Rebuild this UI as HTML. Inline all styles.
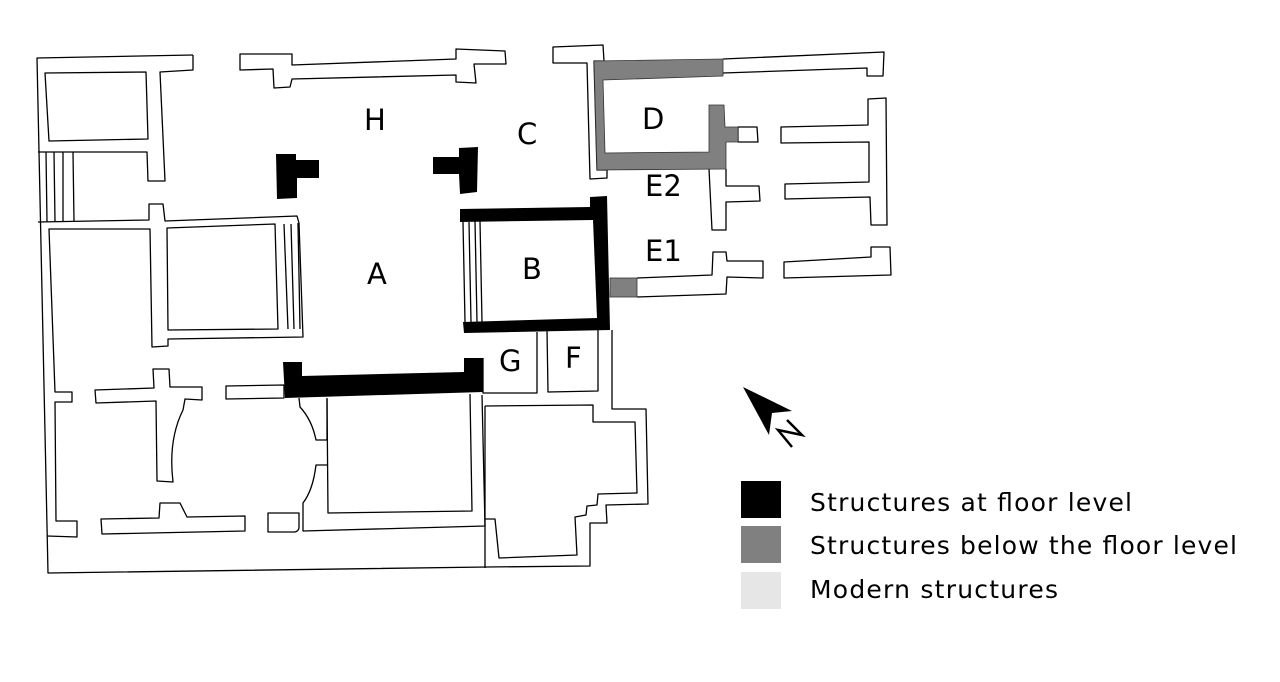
<!DOCTYPE html>
<html><head><meta charset="utf-8"><style>
html,body{margin:0;padding:0;background:#fff;}
svg{display:block;}
text{font-family:"DejaVu Sans","Liberation Sans",sans-serif;fill:#000;}
</style></head><body>
<svg width="1280" height="682" viewBox="0 0 1280 682" xmlns="http://www.w3.org/2000/svg">
<g fill="none" stroke="#000" stroke-width="1.3" stroke-linejoin="round">
<polyline points="193,55 37,58 48,573 487,567 590,566 590,523 607,523 606,505 648,504 646,409 612,409 612,330"/>
<polyline points="193,55 193,70 160,72 165,181 148,181 147,152 38,152"/>
<polygon points="45,73 146,72 148,139 49,141"/>
<line x1="46" y1="152" x2="47" y2="222"/><line x1="54" y1="152" x2="55" y2="222"/><line x1="63" y1="152" x2="63" y2="222"/><line x1="73" y1="152" x2="74" y2="222"/>
<polyline points="38,222 149,220 149,204 163,204 165,221 297,216 299,223 303,337 168,339 168,346 152,347 150,229 49,229 55,392 72,392 72,402 55,402 56,521 77,521 77,537 47,536"/>
<polygon points="167,228 275,224 278,329 168,330"/>
<line x1="284" y1="224" x2="288" y2="329"/><line x1="291" y1="224" x2="294" y2="329"/><line x1="298" y1="223" x2="300" y2="329"/>
<polygon points="240,54 292,54 292,65 456,59 456,49 505,51 506,64 474,64 476,83 456,82 456,75 292,79 290,87 274,88 273,69 240,70"/>
<polygon points="553,47 603,45 604,61 594,61 597,170 607,170 607,178 590,179 587,63 553,63"/>
<polyline points="723,59 884,52 883,76 867,76 867,68 723,73"/>
<polygon points="738,127 757,127 758,142 738,142"/>
<polygon points="781,127 868,125 868,99 886,98 887,225 871,225 870,197 785,199 785,184 869,182 869,142 781,143"/>
<polyline points="709,169 712,230 726,230 726,202 760,201 759,186 726,186 726,169"/>
<polyline points="637,278 712,275 713,252 726,252 727,261 763,261 763,278 727,277 726,294 637,297"/>
<polygon points="784,262 871,257 871,247 890,247 891,275 784,278"/>
<line x1="463" y1="222" x2="465" y2="322"/><line x1="469" y1="222" x2="471" y2="322"/><line x1="475" y1="221" x2="477" y2="322"/><line x1="480" y1="221" x2="482" y2="322"/>
<polyline points="483,358 483,393 537,393 537,332"/>
<polyline points="547,330 548,392 598,391 598,328"/>
<polygon points="226,386 284,385 284,398 226,399"/>
<path d="M153,369 L169,369 L170,387 L202,387 L202,400 L185,399 L183,410 Q168,440 173,482 L157,481 L156,401 L96,403 L95,390 L154,388 Z"/>
<polygon points="101,519 159,518 160,503 180,503 187,517 245,516 245,531 102,534"/>
<path d="M268,513 L299,513 L299,527 Q299,531 295,532 L268,532 Z"/>
<path d="M299,398 L300,407 Q312,420 316,440 L327,440 L327,398"/>
<path d="M327,465 L316,465 Q313,490 303,503 L303,531 L485,526 L482,395"/>
<polyline points="327,399 328,513 472,511 470,394"/>
<polyline points="485,406 593,405 593,422 635,422 637,493 598,494 597,505 587,506 586,515 575,517 577,555 499,558 495,519 485,519"/>
<polyline points="485,406 485,568"/>
</g>
<polygon fill="#808080" stroke="#333" stroke-width="0.8" points="594,61 723,59 723,76 603,80 605,153 709,152 709,105 724,105 725,127 738,127 738,142 726,142 726,169 597,170"/>
<rect x="610" y="278" width="27" height="19" fill="#808080" stroke="#333" stroke-width="0.8"/>
<g fill="#000">
<polygon points="460,209 590,207 590,197 607,196 610,330 464,333 463,322 597,318 593,220 460,222"/>
<polygon points="283,362 302,362 302,376 464,372 464,358 483,358 483,392 285,398"/>
<polygon points="276,154 296,154 296,160 319,160 319,178 297,178 297,198 277,199"/>
<polygon points="433,157 459,157 459,148 478,147 477,192 460,194 459,174 433,174"/>
<polygon points="743,387 792,411 772,413 769,435"/>
</g>
<polyline points="787,420 802,435 778,430 792,447" fill="none" stroke="#000" stroke-width="2.5" stroke-linejoin="miter"/>
<g font-size="29">
<text x="364" y="130">H</text>
<text x="517" y="144">C</text>
<text x="642" y="129">D</text>
<text x="645" y="196">E2</text>
<text x="645" y="261">E1</text>
<text x="367" y="284">A</text>
<text x="522" y="279">B</text>
<text x="499" y="371">G</text>
<text x="565" y="368">F</text>
</g>
<rect x="741" y="481" width="40" height="37" fill="#000"/>
<rect x="741" y="526" width="40" height="37" fill="#808080"/>
<rect x="741" y="572" width="40" height="37" fill="#e6e6e6"/>
<g font-size="25">
<text x="810" y="511" textLength="322">Structures at floor level</text>
<text x="810" y="554" textLength="427">Structures below the floor level</text>
<text x="810" y="598" textLength="248">Modern structures</text>
</g>
</svg>
</body></html>
